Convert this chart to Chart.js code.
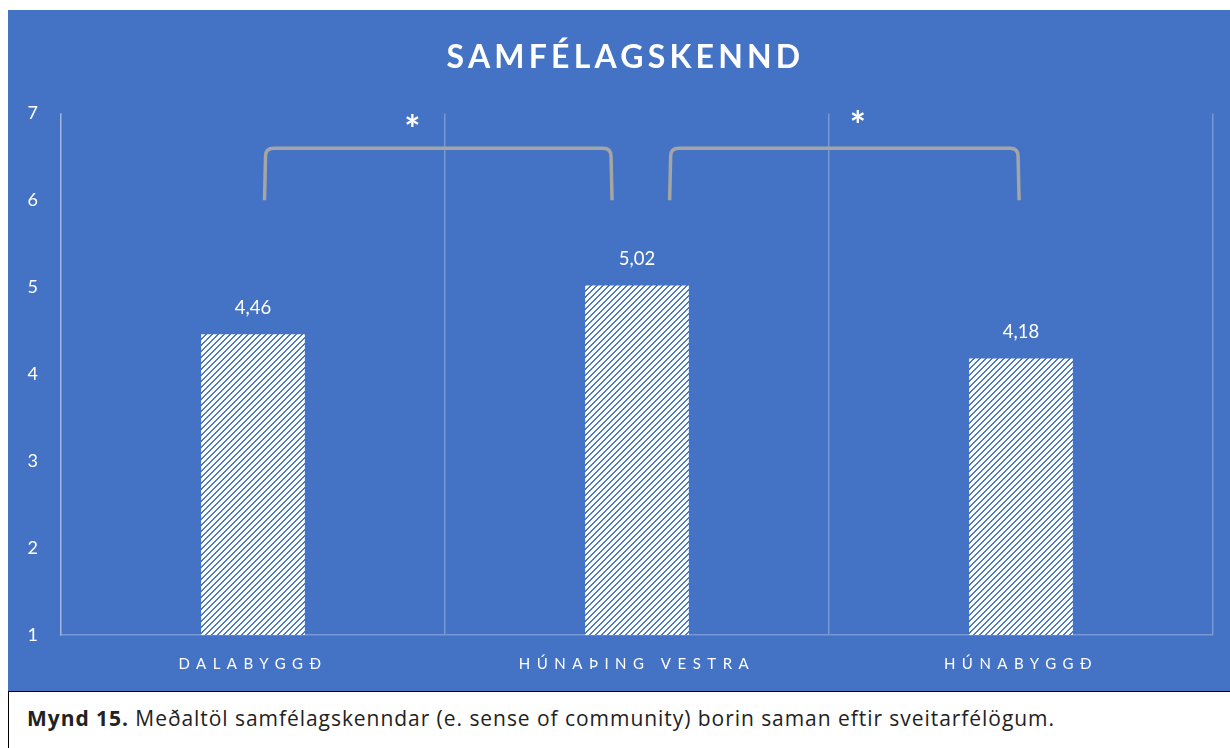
<!DOCTYPE html>
<html>
<head>
<meta charset="utf-8">
<script src="https://cdn.jsdelivr.net/npm/chart.js@4/dist/chart.umd.min.js"></script>
<style>
    body { margin: 0; background: #fff; font-family: Lato, "Open Sans", sans-serif; }
    #chartBox { position: absolute; left: 8px; top: 10px; width: 1222px; height: 681px; background: #4472c4; }
    #caption { position: absolute; left: 8px; top: 691px; width: 1230px; height: 70px; border: 1px solid #000; box-sizing: border-box; }
    #caption p { margin: 0; position: absolute; left: 18px; top: 12px; font-family: "Open Sans", sans-serif; font-size: 21px; letter-spacing: 0.95px; color: #222; }
</style>
</head>
<body>
<div id="chartBox"><canvas id="samfelagChart" width="1222" height="681"></canvas></div>
<div id="caption"><p><b>Mynd 15.</b> Meðaltöl samfélagskenndar (e. sense of community) borin saman eftir sveitarfélögum.</p></div>
<script>
const categories = ['DALABYGGÐ', 'HÚNAÞING VESTRA', 'HÚNABYGGÐ'];
const meanValues = [4.46, 5.02, 4.18];
const yTicks = [1, 2, 3, 4, 5, 6, 7];

// significance brackets, in category index / value units
const brackets = [
    { from: 0.03, to: 0.935, bottom: 6.0, top: 6.6, starX: 0.415, starY: 6.89 },
    { from: 1.085, to: 1.995, bottom: 6.0, top: 6.6, starX: 1.575, starY: 6.94 }
];

function makePattern() {
    const c = document.createElement('canvas');
    c.width = 6; c.height = 6;
    const p = c.getContext('2d');
    p.fillStyle = '#ffffff';
    p.fillRect(0, 0, 6, 6);
    p.fillStyle = '#4a78cc';
    for (let i = 0; i < 6; i++) {
        p.fillRect(i, 5 - i, 1, 1);
        p.fillRect((i + 1) % 6, 5 - i, 1, 1);
    }
    return p.createPattern(c, 'repeat');
}

const spacingPlugin = {
    id: 'spacing',
    beforeDraw(chart) {
        const sx = chart.scales.x;
        if (sx && !sx._spaced) {
            const orig = sx.drawLabels.bind(sx);
            sx.drawLabels = function (area) {
                chart.ctx.save();
                chart.ctx.letterSpacing = '6.5px';
                orig(area);
                chart.ctx.restore();
            };
            sx._spaced = true;
        }
        const tb = chart.titleBlock;
        if (tb && !tb._spaced) {
            const origT = tb.draw.bind(tb);
            tb.draw = function () {
                chart.ctx.save();
                chart.ctx.letterSpacing = '4.2px';
                chart.ctx.translate(15, 0);
                origT();
                chart.ctx.restore();
            };
            tb._spaced = true;
        }
    }
};

const annotationPlugin = {
    id: 'annotations',
    afterDatasetsDraw(chart) {
        const ctx = chart.ctx;
        const xs = chart.scales.x, ys = chart.scales.y;
        // value labels
        ctx.save();
        ctx.fillStyle = '#ffffff';
        ctx.font = '18.5px Lato, "Open Sans", sans-serif';
        ctx.textAlign = 'center';
        ctx.textBaseline = 'bottom';
        chart.getDatasetMeta(0).data.forEach((bar, i) => {
            ctx.fillText(meanValues[i].toFixed(2).replace('.', ','), bar.x, bar.y - 17);
        });
        ctx.restore();

        // brackets
        ctx.save();
        ctx.strokeStyle = '#a5a5a5';
        ctx.lineWidth = 3.5;
        ctx.lineCap = 'butt';
        brackets.forEach(b => {
            const x1 = xs.getPixelForValue(b.from), x2 = xs.getPixelForValue(b.to);
            const yb = ys.getPixelForValue(b.bottom), yt = ys.getPixelForValue(b.top);
            const r = 8;
            ctx.beginPath();
            ctx.moveTo(x1, yb);
            ctx.lineTo(x1 + 1, yt + r);
            ctx.quadraticCurveTo(x1 + 1, yt, x1 + r + 1, yt);
            ctx.lineTo(x2 - r - 1, yt);
            ctx.quadraticCurveTo(x2 - 1, yt, x2 - 1, yt + r);
            ctx.lineTo(x2, yb);
            ctx.stroke();

            ctx.fillStyle = '#ffffff';
            ctx.font = 'bold 38px Lato, "Open Sans", sans-serif';
            ctx.textAlign = 'center';
            ctx.textBaseline = 'middle';
            ctx.fillText('*', xs.getPixelForValue(b.starX), ys.getPixelForValue(b.starY) + 8);
        });
        ctx.restore();
    }
};

const ctx = document.getElementById('samfelagChart').getContext('2d');
new Chart(ctx, {
    type: 'bar',
    data: {
        labels: categories,
        datasets: [{
            data: meanValues,
            backgroundColor: makePattern(),
            borderWidth: 0,
            categoryPercentage: 0.27,
            barPercentage: 1.0
        }]
    },
    options: {
        responsive: false,
        animation: false,
        layout: { padding: { left: 0, right: 17, top: 0, bottom: 0 } },
        scales: {
            x: {
                grid: { display: true, offset: true, color: 'rgba(255,255,255,0.28)', lineWidth: 1.5, drawTicks: false },
                border: { display: true, color: 'rgba(255,255,255,0.28)', width: 1.5 },
                ticks: { color: '#ffffff', font: { size: 15, family: 'Lato, "Open Sans", sans-serif' }, padding: 20 },
                afterFit: s => { s.height = 56; }
            },
            y: {
                min: 1,
                max: 7,
                afterBuildTicks: s => { s.ticks = yTicks.map(v => ({ value: v })); },
                grid: { display: false },
                border: { display: true, color: 'rgba(255,255,255,0.28)', width: 1.5 },
                ticks: { color: '#ffffff', font: { size: 18, family: 'Lato, "Open Sans", sans-serif' }, padding: 15 },
                afterFit: s => { s.width = 53; }
            }
        },
        plugins: {
            legend: { display: false },
            tooltip: { enabled: false },
            title: {
                display: true,
                text: 'SAMFÉLAGSKENND',
                color: '#ffffff',
                font: { size: 32, weight: 'bold', family: 'Lato, "Open Sans", sans-serif' },
                padding: { top: 28, bottom: 37 }
            }
        }
    },
    plugins: [spacingPlugin, annotationPlugin]
});
</script>
</body>
</html>
